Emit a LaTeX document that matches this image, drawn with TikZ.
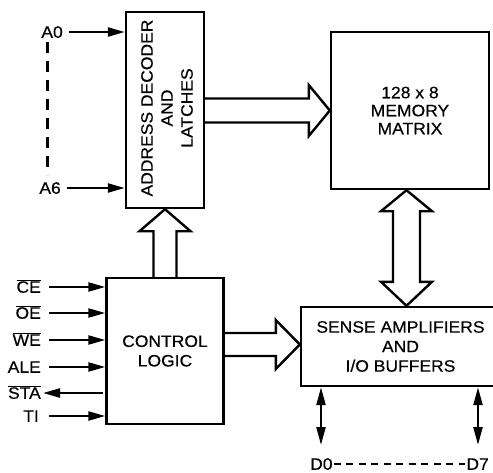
\documentclass[tikz,border=0pt]{standalone}
\usepackage{fontspec}
\setmainfont[FakeStretch=1.06,FakeBold=0.4]{Liberation Sans}
\usetikzlibrary{arrows.meta}
\newcommand{\ovl}[1]{$\overline{\mbox{#1}}$}
\begin{document}
\begin{tikzpicture}[x=1pt,y=-1pt,
  box/.style={draw, line width=2.4pt, inner sep=0pt, font=\fontsize{16.5}{19.5}\selectfont, align=center},
  sig/.style={line width=2.3pt, -{Triangle[length=17pt,width=9pt]}},
  bisig/.style={line width=2.3pt, {Triangle[length=18pt,width=9pt]}-{Triangle[length=18pt,width=9pt]}},
  fat/.style={line width=2.4pt, line join=miter},
  pinlbl/.style={font=\fontsize{16.5}{19}\selectfont, anchor=east, inner sep=0pt, text height=11.5pt, text depth=0pt}]
\useasboundingbox (0,0) rectangle (493,472);
\clip (0,0) rectangle (493,472);
% blocks
\node[box, minimum width=78pt, minimum height=196pt] (dec) at (165,110) {};
\node[rotate=90, font=\fontsize{16.5}{20}\selectfont, align=center, inner sep=0pt] (dectext) at (167,108) {ADDRESS DECODER\\AND\\LATCHES};
\node[box, minimum width=158pt, minimum height=157pt, font=\fontsize{16.5}{18}\selectfont] (mem) at (410,110.5) {128 x 8\\MEMORY\\MATRIX};
\node[box, minimum width=117pt, minimum height=146pt] (ctrl) at (165,351) {CONTROL\\LOGIC};
\node[box, minimum width=199pt, minimum height=79pt] (sense) at (400.5,346.5) {SENSE AMPLIFIERS\\AND\\I/O BUFFERS};
% address inputs
\node[pinlbl] (pA0) at (63,32) {A0};
\node[pinlbl] (pA6) at (61,188) {A6};
\draw[sig] ([xshift=6]pA0.east) -- (pA0.east -| dec.west);
\draw[sig] ([xshift=6]pA6.east) -- (pA6.east -| dec.west);
\coordinate (dtop) at (47.5,42);
\coordinate (dbot) at (47.5,175);
\draw[line width=2.3pt, dash pattern=on 11pt off 8pt] (dtop) -- (dbot);
% control inputs
\node[pinlbl] (pCE) at (41,287) {\ovl{CE}};
\node[pinlbl] (pOE) at (41,313) {\ovl{OE}};
\node[pinlbl] (pWE) at (41,340) {\ovl{WE}};
\node[pinlbl] (pALE) at (41,367) {ALE};
\node[pinlbl] (pSTA) at (41,393) {\ovl{STA}};
\node[pinlbl] (pTI) at (39,416) {TI};
\draw[sig] ([xshift=8]pCE.east) -- (pCE.east -| ctrl.west);
\draw[sig] ([xshift=8]pOE.east) -- (pOE.east -| ctrl.west);
\draw[sig] ([xshift=8]pWE.east) -- (pWE.east -| ctrl.west);
\draw[sig] ([xshift=8]pALE.east) -- (pALE.east -| ctrl.west);
\draw[sig] ([xshift=-2]pSTA.east -| ctrl.west) -- ([xshift=2]pSTA.east);
\draw[sig] ([xshift=10]pTI.east) -- (pTI.east -| ctrl.west);
% fat arrow decoder -> memory
\coordinate (dm) at (dec.east |- mem.west);
\draw[fat] ([yshift=-12]dm) -- ([xshift=-21,yshift=-12]mem.west) -- ([xshift=-21,yshift=-25.5]mem.west) -- (mem.west)
  -- ([xshift=-21,yshift=25.5]mem.west) -- ([xshift=-21,yshift=12]mem.west) -- ([yshift=12]dm);
% fat arrow control -> decoder
\draw[fat] ([xshift=-11.5]ctrl.north) -- ([xshift=-11.5,yshift=-22]dec.south) -- ([xshift=-25.5,yshift=-22]dec.south) -- (dec.south)
  -- ([xshift=25.5,yshift=-22]dec.south) -- ([xshift=11.5,yshift=-22]dec.south) -- ([xshift=11.5]ctrl.north);
% fat double arrow memory <-> sense
\coordinate (ms1) at ([xshift=-3.5]mem.south);
\coordinate (ms2) at (ms1 |- sense.north);
\draw[fat] ([xshift=-13.5,yshift=-21]ms1) -- ([xshift=-25.5,yshift=-21]ms1) -- (ms1) -- ([xshift=25.5,yshift=-21]ms1) -- ([xshift=13.5,yshift=-21]ms1)
  -- ([xshift=13.5,yshift=24]ms2) -- ([xshift=25.5,yshift=24]ms2) -- (ms2) -- ([xshift=-25.5,yshift=24]ms2) -- ([xshift=-13.5,yshift=24]ms2) -- cycle;
% fat arrow control -> sense
\coordinate (cs) at ([yshift=2]ctrl.east |- sense.west);
\coordinate (cst) at (sense.west |- cs);
\draw[fat] ([yshift=11.5]cs) -- ([xshift=-24,yshift=11.5]cst) -- ([xshift=-24,yshift=24.5]cst) -- (cst)
  -- ([xshift=-24,yshift=-24.5]cst) -- ([xshift=-24,yshift=-11.5]cst) -- ([yshift=-11.5]cs);
% data lines
\node[pinlbl, anchor=west] (pD0) at (310,464) {D0};
\node[pinlbl] (pD7) at (489,464) {D7};
\coordinate (b0) at (321,445);
\coordinate (b7) at (478,445);
\draw[bisig] (b0 |- sense.south) -- (b0);
\draw[bisig] (b7 |- sense.south) -- (b7);
\draw[line width=2.3pt, dash pattern=on 7pt off 5.5pt] ([xshift=1]pD0.east) -- ([xshift=-1]pD7.west);
\end{tikzpicture}
\end{document}
